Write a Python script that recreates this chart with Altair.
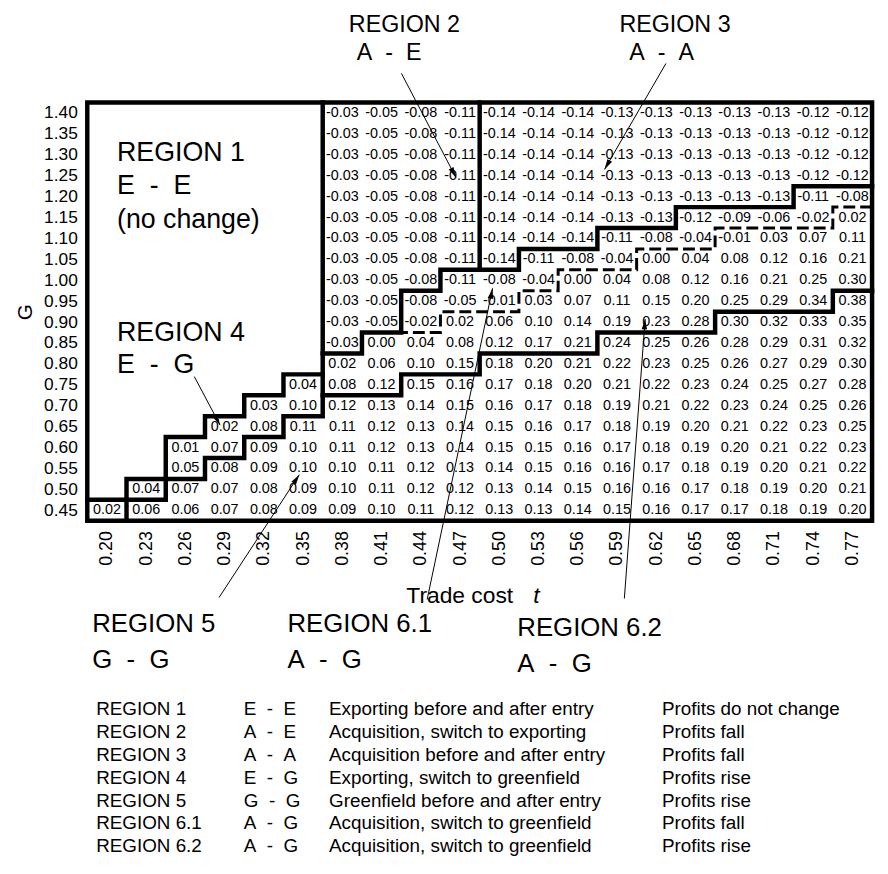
import altair as alt
import pandas as pd
import numpy as np

FONT = "Liberation Sans"

# ---------------- data ----------------
T_VALUES = [0.20, 0.23, 0.26, 0.29, 0.32, 0.35, 0.38, 0.41, 0.44, 0.47,
            0.50, 0.53, 0.56, 0.59, 0.62, 0.65, 0.68, 0.71, 0.74, 0.77]
G_VALUES = [0.45, 0.50, 0.55, 0.60, 0.65, 0.70, 0.75, 0.80, 0.85, 0.90,
            0.95, 1.00, 1.05, 1.10, 1.15, 1.20, 1.25, 1.30, 1.35, 1.40]

NA = None
ROW_140 = [NA] * 6 + [-0.03, -0.05, -0.08, -0.11, -0.14, -0.14, -0.14, -0.13, -0.13, -0.13, -0.13, -0.13, -0.12, -0.12]
ROW_135 = [NA] * 6 + [-0.03, -0.05, -0.08, -0.11, -0.14, -0.14, -0.14, -0.13, -0.13, -0.13, -0.13, -0.13, -0.12, -0.12]
ROW_130 = [NA] * 6 + [-0.03, -0.05, -0.08, -0.11, -0.14, -0.14, -0.14, -0.13, -0.13, -0.13, -0.13, -0.13, -0.12, -0.12]
ROW_125 = [NA] * 6 + [-0.03, -0.05, -0.08, -0.11, -0.14, -0.14, -0.14, -0.13, -0.13, -0.13, -0.13, -0.13, -0.12, -0.12]
ROW_120 = [NA] * 6 + [-0.03, -0.05, -0.08, -0.11, -0.14, -0.14, -0.14, -0.13, -0.13, -0.13, -0.13, -0.13, -0.11, -0.08]
ROW_115 = [NA] * 6 + [-0.03, -0.05, -0.08, -0.11, -0.14, -0.14, -0.14, -0.13, -0.13, -0.12, -0.09, -0.06, -0.02, 0.02]
ROW_110 = [NA] * 6 + [-0.03, -0.05, -0.08, -0.11, -0.14, -0.14, -0.14, -0.11, -0.08, -0.04, -0.01, 0.03, 0.07, 0.11]
ROW_105 = [NA] * 6 + [-0.03, -0.05, -0.08, -0.11, -0.14, -0.11, -0.08, -0.04, 0.00, 0.04, 0.08, 0.12, 0.16, 0.21]
ROW_100 = [NA] * 6 + [-0.03, -0.05, -0.08, -0.11, -0.08, -0.04, 0.00, 0.04, 0.08, 0.12, 0.16, 0.21, 0.25, 0.30]
ROW_095 = [NA] * 6 + [-0.03, -0.05, -0.08, -0.05, -0.01, 0.03, 0.07, 0.11, 0.15, 0.20, 0.25, 0.29, 0.34, 0.38]
ROW_090 = [NA] * 6 + [-0.03, -0.05, -0.02, 0.02, 0.06, 0.10, 0.14, 0.19, 0.23, 0.28, 0.30, 0.32, 0.33, 0.35]
ROW_085 = [NA] * 6 + [-0.03, 0.00, 0.04, 0.08, 0.12, 0.17, 0.21, 0.24, 0.25, 0.26, 0.28, 0.29, 0.31, 0.32]
ROW_080 = [NA] * 6 + [0.02, 0.06, 0.10, 0.15, 0.18, 0.20, 0.21, 0.22, 0.23, 0.25, 0.26, 0.27, 0.29, 0.30]
ROW_075 = [NA] * 5 + [0.04, 0.08, 0.12, 0.15, 0.16, 0.17, 0.18, 0.20, 0.21, 0.22, 0.23, 0.24, 0.25, 0.27, 0.28]
ROW_070 = [NA] * 4 + [0.03, 0.10, 0.12, 0.13, 0.14, 0.15, 0.16, 0.17, 0.18, 0.19, 0.21, 0.22, 0.23, 0.24, 0.25, 0.26]
ROW_065 = [NA] * 3 + [0.02, 0.08, 0.11, 0.11, 0.12, 0.13, 0.14, 0.15, 0.16, 0.17, 0.18, 0.19, 0.20, 0.21, 0.22, 0.23, 0.25]
ROW_060 = [NA] * 2 + [0.01, 0.07, 0.09, 0.10, 0.11, 0.12, 0.13, 0.14, 0.15, 0.15, 0.16, 0.17, 0.18, 0.19, 0.20, 0.21, 0.22, 0.23]
ROW_055 = [NA] * 2 + [0.05, 0.08, 0.09, 0.10, 0.10, 0.11, 0.12, 0.13, 0.14, 0.15, 0.16, 0.16, 0.17, 0.18, 0.19, 0.20, 0.21, 0.22]
ROW_050 = [NA] * 1 + [0.04, 0.07, 0.07, 0.08, 0.09, 0.10, 0.11, 0.12, 0.12, 0.13, 0.14, 0.15, 0.16, 0.16, 0.17, 0.18, 0.19, 0.20, 0.21]
ROW_045 = [0.02, 0.06, 0.06, 0.07, 0.08, 0.09, 0.09, 0.10, 0.11, 0.12, 0.13, 0.13, 0.14, 0.15, 0.16, 0.17, 0.17, 0.18, 0.19, 0.20]

ROWS = [ROW_045, ROW_050, ROW_055, ROW_060, ROW_065, ROW_070, ROW_075, ROW_080, ROW_085, ROW_090,
        ROW_095, ROW_100, ROW_105, ROW_110, ROW_115, ROW_120, ROW_125, ROW_130, ROW_135, ROW_140]

# region boundaries, as (column edge, row edge) indices of the grid
FRAME = [(0, 0), (20, 0), (20, 20), (0, 20), (0, 0)]
BOUND_R1 = [(6, 20), (6, 7), (5, 7), (5, 6), (4, 6), (4, 5), (3, 5), (3, 4), (2, 4), (2, 2), (1, 2), (1, 1), (0, 1)]
BOUND_R4 = [(6, 7), (6, 5), (5, 5), (5, 4), (4, 4), (4, 3), (3, 3), (3, 2), (2, 2), (2, 1), (1, 1), (1, 0)]
BOUND_R23 = [(20, 16), (18, 16), (18, 15), (15, 15), (15, 14), (13, 14), (13, 13), (11, 13), (11, 12),
             (9, 12), (9, 11), (8, 11), (8, 9), (7, 9), (7, 8), (6, 8)]
BOUND_2_3 = [(10, 20), (10, 12)]
BOUND_R5 = [(20, 11), (19, 11), (19, 10), (16, 10), (16, 9), (13, 9), (13, 8), (10, 8), (10, 7), (8, 7), (8, 6), (6, 6)]
BOUND_61_62 = [(20, 15), (19, 15), (19, 14), (16, 14), (16, 13), (14, 13), (14, 12), (12, 12), (12, 11),
               (11, 11), (11, 10), (9, 10), (9, 9), (8, 9)]

LEGEND_REGION = ["REGION 1", "REGION 2", "REGION 3", "REGION 4", "REGION 5", "REGION 6.1", "REGION 6.2"]
LEGEND_CODE = ["E - E", "A - E", "A - A", "E - G", "G - G", "A - G", "A - G"]
LEGEND_DESC = ["Exporting before and after entry", "Acquisition, switch to exporting",
               "Acquisition before and after entry", "Exporting, switch to greenfield",
               "Greenfield before and after entry", "Acquisition, switch to greenfield",
               "Acquisition, switch to greenfield"]
LEGEND_PROFIT = ["Profits do not change", "Profits fall", "Profits fall", "Profits rise",
                 "Profits rise", "Profits fall", "Profits rise"]

# ---------------- layout (page pixels) ----------------
PLOT_LEFT, PLOT_TOP, PLOT_W, PLOT_H = 88, 99.5, 792, 422
T_STEP, G_STEP = 0.03, 0.05
T_LO, T_HI = T_VALUES[0] - T_STEP / 2, T_VALUES[-1] + T_STEP / 2
G_LO, G_HI = G_VALUES[0] - G_STEP / 2, G_VALUES[-1] + G_STEP / 2


def to_t(px):
    return T_LO + (px - PLOT_LEFT) / PLOT_W * (T_HI - T_LO)


def to_g(py):
    return G_HI - (py - PLOT_TOP) / PLOT_H * (G_HI - G_LO)


NB = "\u00a0"


def spaced(s):
    return s.replace(" - ", NB * 2 + "-" + NB * 2)


# annotation texts: (text, page x, page baseline y, font size, style)
ANNOT = [
    ("REGION 2", 352, 28, 23.5, "normal"), (spaced("A - E"), 360, 57, 23.5, "normal"),
    ("REGION 3", 625, 28, 23.5, "normal"), (spaced("A - A"), 635, 57, 23.5, "normal"),
    ("REGION 1", 118, 158, 27, "normal"), (spaced("E - E"), 118, 192, 27, "normal"),
    ("(no change)", 118, 226, 27, "normal"),
    ("REGION 4", 118, 340, 27, "normal"), (spaced("E - G"), 118, 372, 27, "normal"),
    ("REGION 5", 93, 634, 26, "normal"), (spaced("G - G"), 93, 670, 26, "normal"),
    ("REGION 6.1", 290, 634, 26, "normal"), (spaced("A - G"), 290, 670, 26, "normal"),
    ("REGION 6.2", 522, 638, 26, "normal"), (spaced("A - G"), 522, 674, 26, "normal"),
    ("Trade cost", 410, 605, 23, "normal"),
]
ANNOT_ITALIC = [("t", 538, 605, 23, "italic")]

# arrows: page (x0, y0) -> tip (x1, y1)
ARROWS = [
    (405, 70, 460, 175),   # region 2
    (672, 60, 610, 167),   # region 3
    (196, 376, 222, 425),  # region 4
    (221, 599, 302, 475),  # region 5
    (431, 601, 497, 287),  # region 6.1
    (630, 600, 651, 318),  # region 6.2
]

LEG_COLS = [97, 246, 332, 668]
LEG_ROW0, LEG_DY = 712, 23
LEG_SIZE = 19

# ---------------- tables ----------------
cells = []
for gi, row in enumerate(ROWS):
    for ti, v in enumerate(row):
        if v is not None:
            cells.append({"t": T_VALUES[ti], "G": G_VALUES[gi], "label": f"{v:.2f}"})
cells_df = pd.DataFrame(cells)

t_edges = [T_LO + T_STEP * k for k in range(21)]
g_edges = [G_LO + G_STEP * k for k in range(21)]


def path_df(paths):
    recs = []
    for pid, pts in enumerate(paths):
        for i, (c, r) in enumerate(pts):
            recs.append({"path": pid, "i": i, "t": t_edges[c], "G": g_edges[r]})
    return pd.DataFrame(recs)


solid_df = path_df([FRAME, BOUND_R1, BOUND_R4, BOUND_R23, BOUND_2_3, BOUND_R5])
dash_df = path_df([BOUND_61_62])

arrow_recs = []
for (x0, y0, x1, y1) in ARROWS:
    ang = (np.degrees(np.arctan2(x1 - x0, -(y1 - y0))) + 360) % 360
    arrow_recs.append({"t": to_t(x0), "G": to_g(y0), "t1": to_t(x1), "g1": to_g(y1), "ang": float(ang)})
arrow_df = pd.DataFrame(arrow_recs)

ann_df = pd.DataFrame([{"text": s, "t": to_t(x), "G": to_g(y), "size": fs} for s, x, y, fs, st in ANNOT])
ann_it_df = pd.DataFrame([{"text": s, "t": to_t(x), "G": to_g(y), "size": fs} for s, x, y, fs, st in ANNOT_ITALIC])

leg = []
for k in range(len(LEGEND_REGION)):
    for col, txt in zip(LEG_COLS, [LEGEND_REGION[k], spaced(LEGEND_CODE[k]), LEGEND_DESC[k], LEGEND_PROFIT[k]]):
        leg.append({"text": txt, "t": to_t(col), "G": to_g(LEG_ROW0 + LEG_DY * k)})
leg_df = pd.DataFrame(leg)

# ---------------- chart ----------------
xscale = alt.Scale(domain=[T_LO, T_HI], nice=False, zero=False)
yscale = alt.Scale(domain=[G_LO, G_HI], nice=False, zero=False)

xaxis = alt.Axis(values=T_VALUES, format=".2f", labelAngle=270, labelFontSize=18, labelFont=FONT,
                 labelColor="black", ticks=False, domain=False, grid=False, labelPadding=10,
                 labelOverlap=False, title="")
yaxis = alt.Axis(values=G_VALUES, format=".2f", labelFontSize=17.5, labelFont=FONT, labelColor="black",
                 ticks=False, domain=False, grid=False, labelPadding=10, labelOverlap=False,
                 labelSeparation=0, title="G", titleFont=FONT,
                 titleFontSize=21, titleFontWeight="normal", titleColor="black", titlePadding=8)

X = alt.X("t:Q", scale=xscale, axis=xaxis)
Y = alt.Y("G:Q", scale=yscale, axis=yaxis)

cell_layer = alt.Chart(cells_df).mark_text(font=FONT, fontSize=14.5, color="black").encode(
    x=X, y=Y, text="label:N")

solid_layer = alt.Chart(solid_df).mark_line(color="black", strokeWidth=4.5, strokeCap="square",
                                            strokeJoin="miter").encode(
    x=X, y=Y, detail="path:N", order="i:Q")

dash_layer = alt.Chart(dash_df).mark_line(color="black", strokeWidth=3, strokeDash=[12, 5],
                                          strokeJoin="miter").encode(
    x=X, y=Y, detail="path:N", order="i:Q")

arrow_line = alt.Chart(arrow_df).mark_rule(color="black", strokeWidth=1).encode(
    x=X, y=Y, x2="t1:Q", y2="g1:Q")

arrow_head = alt.Chart(arrow_df).mark_point(shape="M0,0L0.42,1.6L-0.42,1.6Z", filled=True, color="black",
                                            size=170, opacity=1, strokeWidth=0).encode(
    x=alt.X("t1:Q", scale=xscale, axis=xaxis), y=alt.Y("g1:Q", scale=yscale, axis=yaxis),
    angle=alt.Angle("ang:Q", scale=None))

ann_layer = alt.Chart(ann_df).mark_text(font=FONT, align="left", baseline="alphabetic", color="black").encode(
    x=X, y=Y, text="text:N", size=alt.Size("size:Q", scale=None))

ann_it_layer = alt.Chart(ann_it_df).mark_text(font=FONT, align="left", baseline="alphabetic", color="black",
                                              fontStyle="italic").encode(
    x=X, y=Y, text="text:N", size=alt.Size("size:Q", scale=None))

leg_layer = alt.Chart(leg_df).mark_text(font=FONT, align="left", baseline="middle", color="black",
                                        fontSize=LEG_SIZE).encode(
    x=X, y=Y, text="text:N")

chart = alt.layer(cell_layer, dash_layer, solid_layer, arrow_line, arrow_head,
                  ann_layer, ann_it_layer, leg_layer).properties(
    width=PLOT_W, height=PLOT_H,
    padding={"left": PLOT_LEFT - 8, "top": PLOT_TOP - 8, "right": 8,
             "bottom": 858 - (PLOT_TOP - 8) - PLOT_H},
    autosize=alt.AutoSizeParams(type="none"),
    background="white",
).configure_view(strokeWidth=0)

chart.save("out.html", embed_options={"renderer": "svg", "actions": False})
